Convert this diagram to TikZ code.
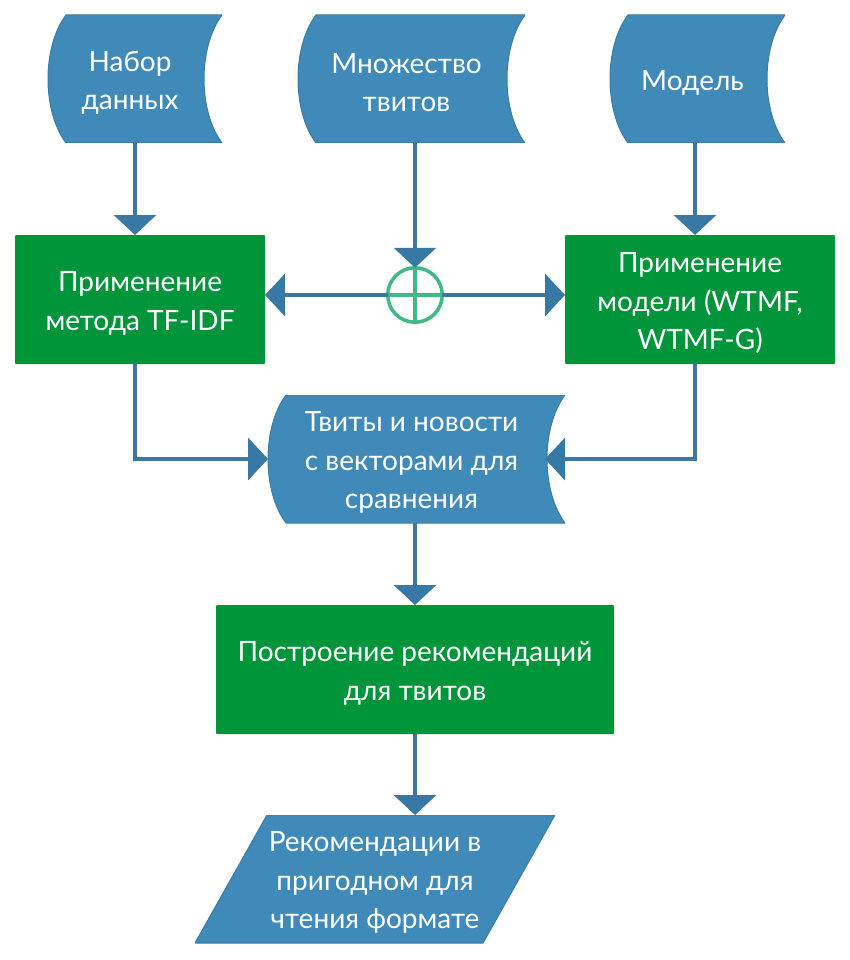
\documentclass[tikz,border=0pt]{standalone}
\usepackage{fontspec}
\setmainfont{Lato}
\usetikzlibrary{shapes.geometric, arrows.meta}
\usetikzlibrary{positioning}
\definecolor{datablue}{HTML}{3F8AB9}
\definecolor{databorder}{HTML}{3A7CA8}
\definecolor{arrowblue}{HTML}{3878A4}
\definecolor{procgreen}{HTML}{00943B}
\definecolor{sumgreen}{HTML}{40B985}
\newcommand{\txtstrut}{\rule{0pt}{27.5pt}}
\tikzstyle{textbox} = [rectangle, inner sep=0pt, outer sep=0pt, text=white, align=center]
\tikzstyle{storeddata} = [textbox, minimum height=128pt,
  path picture={\fill[datablue, draw=databorder, line width=1pt]
    ([xshift=28pt]path picture bounding box.north west)
    .. controls ([xshift=4pt,yshift=-32pt]path picture bounding box.north west) and ([xshift=4pt,yshift=32pt]path picture bounding box.south west) ..
    ([xshift=28pt]path picture bounding box.south west) -- (path picture bounding box.south east)
    .. controls ([xshift=-24pt,yshift=32pt]path picture bounding box.south east) and ([xshift=-24pt,yshift=-32pt]path picture bounding box.north east) ..
    (path picture bounding box.north east) -- cycle;}]
\tikzstyle{process} = [textbox, rounded corners=1pt, minimum height=129pt, fill=procgreen]
\tikzstyle{io} = [textbox, minimum width=360pt, minimum height=128pt,
  path picture={\fill[datablue, draw=databorder, line width=1pt]
    (path picture bounding box.south west) -- ([xshift=72pt]path picture bounding box.north west)
    -- (path picture bounding box.north east) -- ([xshift=-72pt]path picture bounding box.south east) -- cycle;}]
\tikzstyle{junction} = [circle, draw=sumgreen, line width=3.5pt, minimum size=54.5pt, inner sep=0pt, outer sep=0pt,
  path picture={\draw[sumgreen, line width=3.5pt] (path picture bounding box.north) -- (path picture bounding box.south)
    (path picture bounding box.west) -- (path picture bounding box.east);}]
\tikzstyle{arrow} = [line width=3.5pt, draw=arrowblue, -{Triangle[width=42pt,length=20pt]}]

\begin{document}
\begin{tikzpicture}[x=1pt, y=-1pt, font=\fontsize{28}{38.5}\selectfont]
	\useasboundingbox (0,0) rectangle (850,960);

	\node (dataset) [storeddata, minimum width=184pt] at (130,79) {\txtstrut Набор\\данных};
	\node (tweets) [storeddata, minimum width=237pt] at (406.5,79) {\txtstrut Множество\\твитов};
	\node (model) [storeddata, minimum width=185pt] at (692.5,79) {\txtstrut Модель};

	\node (tfidf) [process, minimum width=250pt] at (140,299.5) {\txtstrut Применение\\метода TF-IDF};
	\node (sum) [junction] at (415,295) {};
	\node (apply_model) [process, minimum width=270pt] at (700,299.5) {\txtstrut Применение\\модели (WTMF,\\WTMF-G)};

	\node (vectors) [storeddata, minimum width=307pt] at (411.5,459) {\txtstrut Твиты и новости\\с векторами для\\сравнения};
	\coordinate (vectors_left) at ([xshift=10pt]vectors.west);
	\coordinate (vectors_right) at ([xshift=-20pt]vectors.east);

	\node (build_recs) [process, minimum width=398pt] at (415,669.5) {\txtstrut Построение рекомендаций\\для твитов};
	\node (output) [io] at (375,879) {\txtstrut Рекомендации в\\пригодном для\\чтения формате};

	\draw [arrow] ([xshift=5pt]dataset.south) -- ([xshift=-5pt]tfidf.north);
	\draw [arrow] (sum.north |- tweets.south) -- (sum.north);
	\draw [arrow] ([xshift=2.5pt]model.south) -- ([xshift=-5pt]apply_model.north);

	\draw [arrow] (sum.west) -- (sum.west -| tfidf.east);
	\draw [arrow] (sum.east) -- (sum.east -| apply_model.west);

	\draw [arrow] ([xshift=-5pt]tfidf.south) |- (vectors_left);
	\draw [arrow] ([xshift=-5pt]apply_model.south) |- (vectors_right);

	\draw [arrow] (build_recs.north |- vectors.south) -- (build_recs.north);
	\draw [arrow] (build_recs.south) -- (build_recs.south |- output.north);

\end{tikzpicture}
\end{document}
